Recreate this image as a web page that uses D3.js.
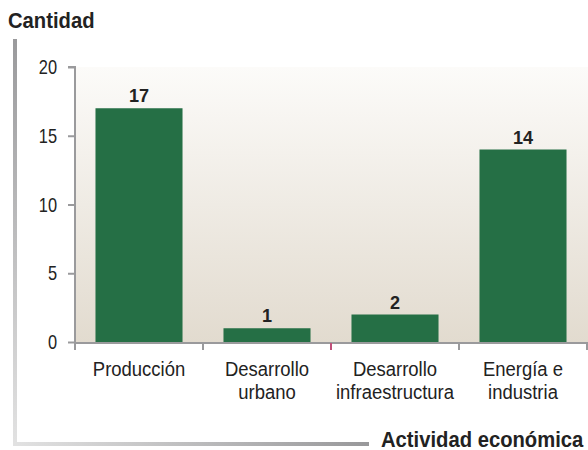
<!DOCTYPE html>
<html>
<head>
<meta charset="utf-8">
<script src="https://cdn.jsdelivr.net/npm/d3@7"></script>
<style>
  body { margin: 0; background: #fff; }
  svg text { font-family: "Liberation Sans", Arial, sans-serif; fill: #222; }
</style>
</head>
<body>
<div id="chart"></div>
<script>
// data
var categorias = ["Producción", "Desarrollo urbano", "Desarrollo infraestructura", "Energía e industria"];
var etiquetas = [["Producción"], ["Desarrollo", "urbano"], ["Desarrollo", "infraestructura"], ["Energía e", "industria"]];
var cantidades = [17, 1, 2, 14];
var yTicks = [0, 5, 10, 15, 20];

var w = 588;
var h = 450;

var svg = d3.select("#chart")
            .append("svg")
            .attr("width", w)
            .attr("height", h);

var defs = svg.append("defs");

// plot background gradient
var bg = defs.append("linearGradient").attr("id", "bg")
    .attr("x1", 0).attr("y1", 0).attr("x2", 0).attr("y2", 1);
bg.append("stop").attr("offset", "0%").attr("stop-color", "#fcfbf9");
bg.append("stop").attr("offset", "100%").attr("stop-color", "#e2dbcf");

// frame gradients
var gl = defs.append("linearGradient").attr("id", "frameLeft")
    .attr("x1", 0).attr("y1", 0).attr("x2", 0).attr("y2", 1);
gl.append("stop").attr("offset", "0%").attr("stop-color", "#9a9a9c");
gl.append("stop").attr("offset", "100%").attr("stop-color", "#e2e2e2");
var gb = defs.append("linearGradient").attr("id", "frameBottom")
    .attr("x1", 0).attr("y1", 0).attr("x2", 1).attr("y2", 0);
gb.append("stop").attr("offset", "0%").attr("stop-color", "#e2e2e2");
gb.append("stop").attr("offset", "100%").attr("stop-color", "#98989a");

// narrow looking text: place with translate and squeeze horizontally
function texto(g, tx, ty, s, size, sx, anchor, bold) {
    return g.append("text")
        .attr("transform", "translate(" + tx + "," + ty + ") scale(" + sx + ",1)")
        .attr("text-anchor", anchor)
        .attr("font-size", size)
        .attr("font-weight", bold ? "bold" : "normal")
        .text(s);
}

var x = d3.scaleBand()
    .domain(categorias)
    .range([75, 587])
    .paddingInner(0.32)
    .paddingOuter(0.16);

var xb = d3.scaleBand()
    .domain(categorias)
    .range([75, 587])
    .padding(0);

var y = d3.scaleLinear()
    .domain([0, 20])
    .range([342, 67]);

// frame
svg.append("rect").attr("x", 13).attr("y", 39).attr("width", 4).attr("height", 407)
    .attr("fill", "url(#frameLeft)");
svg.append("rect").attr("x", 13).attr("y", 442).attr("width", 356).attr("height", 4)
    .attr("fill", "url(#frameBottom)");

// background of the plot
svg.append("rect")
    .attr("x", 75).attr("y", y(20))
    .attr("width", w - 75).attr("height", y(0) - y(20))
    .attr("fill", "url(#bg)");

// bars
svg.selectAll("rect.bar")
    .data(cantidades)
    .enter()
    .append("rect")
    .attr("class", "bar")
    .attr("x", function(d, i) { return x(categorias[i]); })
    .attr("y", function(d) { return y(d); })
    .attr("width", x.bandwidth())
    .attr("height", function(d) { return y(0) - y(d); })
    .attr("fill", "#256f45");

// value labels
cantidades.forEach(function(d, i) {
    texto(svg, x(categorias[i]) + x.bandwidth() / 2, y(d) - 6, d, 19, 0.95, "middle", true);
});

// y axis
var yAxis = svg.append("g")
    .attr("transform", "translate(75,0)")
    .call(d3.axisLeft(y).tickValues(yTicks).tickSize(7).tickFormat(""));
yAxis.select(".domain").attr("stroke", "#9a9a9c").attr("stroke-width", 2)
    .attr("d", "M-7," + y(20) + "H0V" + y(0));
yAxis.selectAll(".tick line").attr("stroke", "#9a9a9c").attr("stroke-width", 2);
yTicks.forEach(function(t) {
    texto(svg, 57, y(t) + 7, t, 20, 0.82, "end", false);
});

// x axis line and ticks at band boundaries
var bordes = categorias.map(function(c) { return xb(c); }).concat([xb.range()[1]]);
svg.append("line")
    .attr("x1", 75).attr("x2", w)
    .attr("y1", y(0) + 1).attr("y2", y(0) + 1)
    .attr("stroke", "#9a9a9c").attr("stroke-width", 2);
svg.selectAll("line.xtick")
    .data(bordes)
    .enter()
    .append("line")
    .attr("class", "xtick")
    .attr("x1", function(d) { return d; })
    .attr("x2", function(d) { return d; })
    .attr("y1", y(0) + 1)
    .attr("y2", y(0) + 8)
    .attr("stroke", function(d, i) { return i == 2 ? "#c0507a" : "#9a9a9c"; })
    .attr("stroke-width", 2);

// category labels
etiquetas.forEach(function(lineas, i) {
    var cx = xb(categorias[i]) + xb.bandwidth() / 2;
    lineas.forEach(function(s, j) {
        texto(svg, cx, 376 + j * 23, s, 21, 0.88, "middle", false);
    });
});

// titles
texto(svg, 8, 28, "Cantidad", 22, 0.92, "start", true);
texto(svg, 381, 447, "Actividad económica", 22, 0.92, "start", true);
</script>
</body>
</html>
